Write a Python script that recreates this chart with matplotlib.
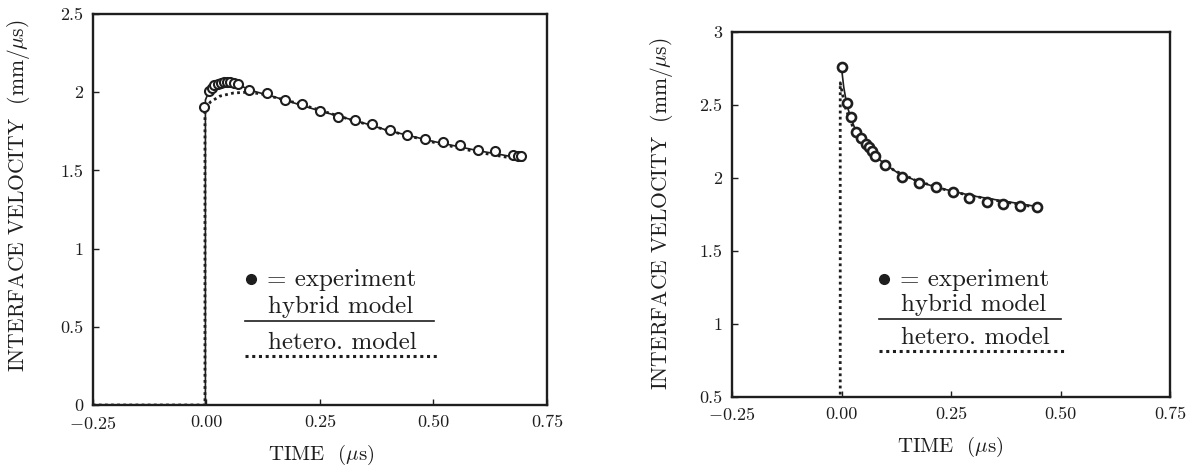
import matplotlib
matplotlib.use("Agg")
import matplotlib.pyplot as plt

plt.rcParams["font.family"] = ["cmr10", "DejaVu Serif"]
plt.rcParams["mathtext.fontset"] = "cm"
plt.rcParams["axes.unicode_minus"] = False

# ---------------- left panel: experiment and model histories ----------------
exp_t_left = [-0.004, 0.006, 0.012, 0.018, 0.025, 0.032, 0.039, 0.046, 0.053, 0.061,
              0.070, 0.095, 0.133, 0.174, 0.210, 0.251, 0.290, 0.327, 0.364, 0.404,
              0.441, 0.482, 0.521, 0.559, 0.598, 0.636, 0.675, 0.687, 0.692]
exp_v_left = [1.905, 2.005, 2.030, 2.045, 2.055, 2.060, 2.065, 2.068, 2.065, 2.060,
              2.050, 2.017, 1.995, 1.952, 1.925, 1.880, 1.841, 1.825, 1.796, 1.758,
              1.726, 1.700, 1.683, 1.660, 1.630, 1.625, 1.601, 1.595, 1.590]

hybrid_t_left = [-0.25, -0.002, -0.002, 0.005, 0.02, 0.04, 0.06, 0.08, 0.10, 0.15,
                 0.20, 0.25, 0.30, 0.35, 0.40, 0.45, 0.50, 0.55, 0.60, 0.65, 0.70]
hybrid_v_left = [0.0, 0.0, 1.95, 2.00, 2.035, 2.05, 2.05, 2.035, 2.01, 1.97,
                 1.925, 1.88, 1.84, 1.80, 1.755, 1.72, 1.685, 1.655, 1.625, 1.60, 1.573]

hetero_t_left = [-0.25, -0.003, -0.003, 0.01, 0.03, 0.06, 0.09, 0.12, 0.20, 0.30,
                 0.40, 0.50, 0.60, 0.70]
hetero_v_left = [0.0, 0.0, 1.90, 1.94, 1.975, 1.995, 2.0, 1.99, 1.93, 1.84,
                 1.755, 1.68, 1.615, 1.565]

# ---------------- right panel ----------------
exp_t_right = [0.000, 0.012, 0.022, 0.034, 0.045, 0.056, 0.063, 0.069, 0.076, 0.099,
               0.137, 0.177, 0.216, 0.254, 0.292, 0.331, 0.369, 0.407, 0.447]
exp_v_right = [2.755, 2.510, 2.415, 2.315, 2.270, 2.228, 2.210, 2.185, 2.149, 2.085,
               2.007, 1.964, 1.933, 1.904, 1.863, 1.836, 1.819, 1.806, 1.799]

hybrid_t_right = [0.0, 0.005, 0.012, 0.02, 0.03, 0.045, 0.06, 0.08, 0.10, 0.13,
                  0.17, 0.21, 0.25, 0.30, 0.35, 0.40, 0.45]
hybrid_v_right = [2.75, 2.62, 2.50, 2.42, 2.34, 2.26, 2.21, 2.14, 2.09, 2.03,
                  1.98, 1.94, 1.91, 1.875, 1.85, 1.825, 1.80]

hetero_t_right = [-0.25, -0.003, -0.003, 0.003, 0.01, 0.02, 0.03, 0.05, 0.08, 0.12,
                  0.17, 0.25, 0.35, 0.45]
hetero_v_right = [0.0, 0.0, 2.65, 2.56, 2.47, 2.39, 2.32, 2.24, 2.14, 2.05,
                  1.98, 1.905, 1.845, 1.795]

x_ticks = [-0.25, 0.0, 0.25, 0.50, 0.75]
x_tick_labels = ["$-$0.25", "0.00", "0.25", "0.50", "0.75"]
y_ticks_left = [0, 0.5, 1, 1.5, 2, 2.5]
y_tick_labels_left = ["0", "0.5", "1", "1.5", "2", "2.5"]
y_ticks_right = [0.5, 1, 1.5, 2, 2.5, 3]
y_tick_labels_right = ["0.5", "1", "1.5", "2", "2.5", "3"]

ylabel_text = r"INTERFACE VELOCITY  (mm/$\mu$s)"
xlabel_text = r"TIME  ($\mu$s)"
legend_exp = "= experiment"
legend_hybrid = "hybrid model"
legend_hetero = "hetero. model"

INK = "#1e1e1e"
DOTS = (0, (1.0, 1.2))

fig = plt.figure(figsize=(11.95, 4.70), dpi=100)
axL = fig.add_axes([0.0776, 0.1383, 0.3802, 0.8319])
axR = fig.add_axes([0.6126, 0.1560, 0.3665, 0.7766])


def frame(ax, yticks, ylabels, ylim):
    ax.set_xlim(-0.25, 0.75)
    ax.set_ylim(*ylim)
    ax.set_xticks(x_ticks)
    ax.set_xticklabels(x_tick_labels)
    ax.set_yticks(yticks)
    ax.set_yticklabels(ylabels)
    for s in ax.spines.values():
        s.set_linewidth(1.7)
        s.set_color(INK)
    ax.tick_params(direction="in", length=4, width=1.0, colors=INK,
                   labelsize=13, pad=7, top=False, right=False)


def legend(ax):
    tr = ax.transAxes
    ax.plot([0.348], [0.322], "o", ms=7, color=INK, transform=tr)
    ax.text(0.383, 0.320, legend_exp, transform=tr, fontsize=18,
            va="center", ha="left", color=INK)
    ax.text(0.386, 0.250, legend_hybrid, transform=tr, fontsize=18,
            va="center", ha="left", color=INK)
    ax.plot([0.336, 0.752], [0.214, 0.214], "-", lw=1.2, color=INK, transform=tr)
    ax.text(0.386, 0.160, legend_hetero, transform=tr, fontsize=18,
            va="center", ha="left", color=INK)
    ax.plot([0.336, 0.762], [0.126, 0.126], ls=DOTS, lw=2.2, color=INK, transform=tr)


# left panel
frame(axL, y_ticks_left, y_tick_labels_left, (0, 2.5))
axL.plot(hetero_t_left, hetero_v_left, ls=DOTS, lw=2.0, color=INK, zorder=2)
axL.plot(hybrid_t_left, hybrid_v_left, "-", lw=1.2, color=INK, zorder=2)
axL.plot(exp_t_left, exp_v_left, "o", ms=6.5, mfc="white", mec=INK, mew=1.5, zorder=3)
legend(axL)
axL.set_ylabel(ylabel_text, fontsize=15.5, color=INK)
axL.yaxis.set_label_coords(-0.133, 0.535)
axL.set_xlabel(xlabel_text, fontsize=15, color=INK)
axL.xaxis.set_label_coords(0.5025, -0.098)

# right panel
frame(axR, y_ticks_right, y_tick_labels_right, (0.5, 3.0))
axR.plot(hetero_t_right, hetero_v_right, ls=DOTS, lw=2.0, color=INK, zorder=2)
axR.plot(hybrid_t_right, hybrid_v_right, "-", lw=1.2, color=INK, zorder=2)
axR.plot(exp_t_right, exp_v_right, "o", ms=6.5, mfc="white", mec=INK, mew=1.9, zorder=3)
legend(axR)
axR.set_ylabel(ylabel_text, fontsize=15.5, color=INK)
axR.yaxis.set_label_coords(-0.130, 0.5)
axR.set_xlabel(xlabel_text, fontsize=15, color=INK)
axR.xaxis.set_label_coords(0.499, -0.105)

fig.savefig("out.png", dpi=100, facecolor="white")
